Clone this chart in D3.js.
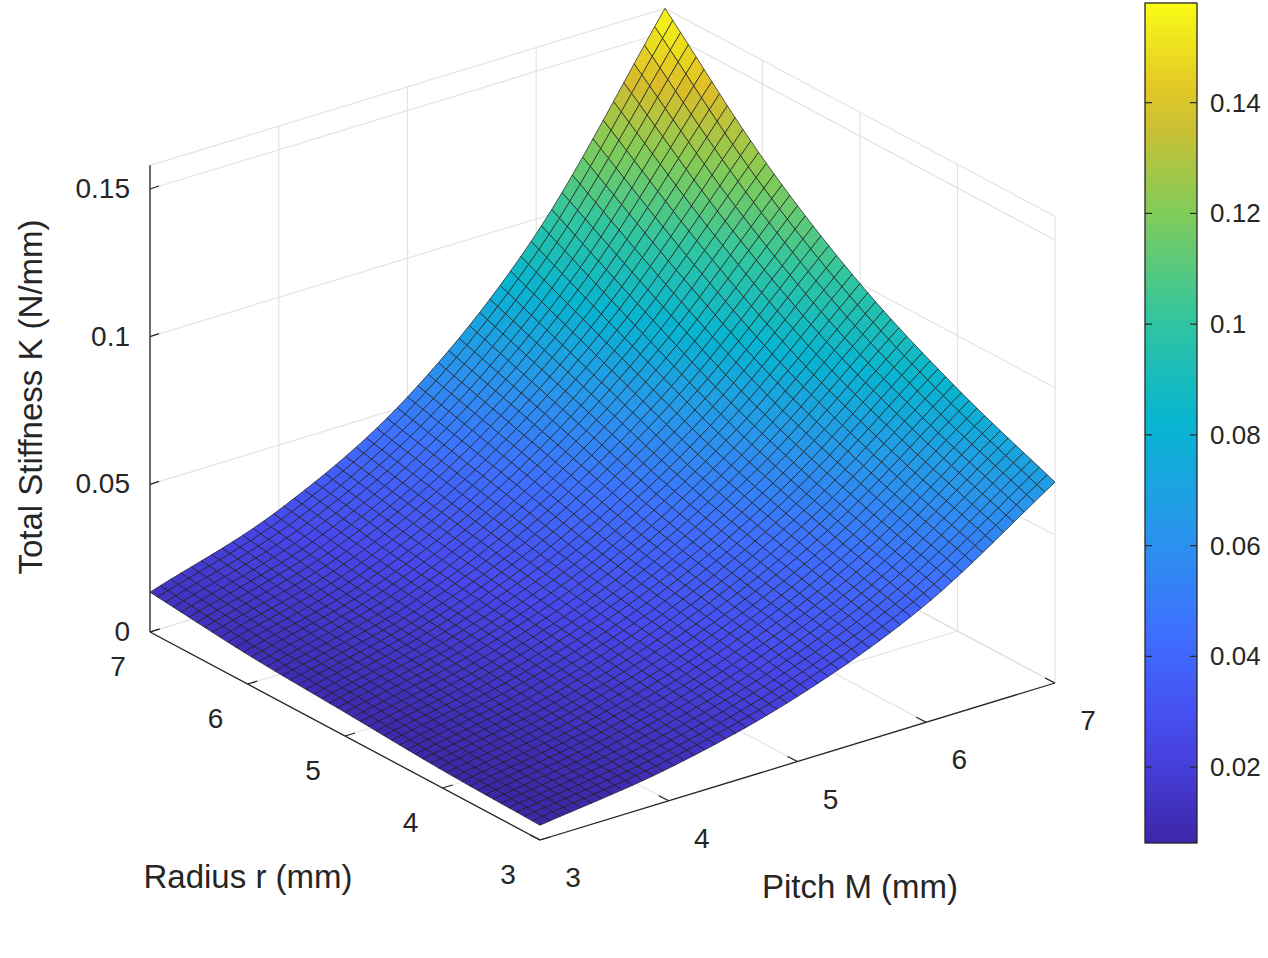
<!DOCTYPE html><html><head><meta charset="utf-8"><script src="https://cdn.jsdelivr.net/npm/d3@7"></script>
<style>body{margin:0;background:#fff}svg{font-family:"Liberation Sans",Arial,sans-serif}</style></head><body>
<svg id="c" width="1268" height="958"></svg>
<script>
const radius=[3,4,5,6,7];
const pitch=[3,4,5,6,7];
// K[ri][mi] : stiffness at radius[ri], pitch[mi]
const K=[
[0.005,0.011,0.022,0.040,0.068],
[0.006,0.014,0.028,0.050,0.082],
[0.008,0.018,0.035,0.062,0.100],
[0.010,0.022,0.044,0.078,0.125],
[0.0135,0.028,0.053,0.095,0.158]];
const zTicks=[0,0.05,0.1,0.15];
const rTicks=[3,4,5,6,7], mTicks=[3,4,5,6,7];
const cbTicks=[0.02,0.04,0.06,0.08,0.1,0.12,0.14];
const parula=[[0.2422,0.1504,0.6603],[0.2803,0.2782,0.9221],[0.2440,0.4358,0.9988],[0.1540,0.5902,0.9218],[0.0297,0.7082,0.8163],[0.1938,0.7758,0.6251],[0.5044,0.7993,0.3480],[0.8634,0.7406,0.1596],[0.9769,0.9839,0.0805]];
const cmin=0.0063,cmax=0.158,zmax=0.158;

const svg=d3.select("#c");
const O=[540,840],Vr=[-390,-208],Vm=[515,-157];
const zs=d3.scaleLinear().domain([0,0.15]).range([0,-443]);
const ur=d3.scaleLinear().domain([3,7]).range([0,1]), um=d3.scaleLinear().domain([3,7]).range([0,1]);
function P(r,m,z){const a=ur(r),b=um(m);return [O[0]+a*Vr[0]+b*Vm[0],O[1]+a*Vr[1]+b*Vm[1]+zs(z)];}
const pc=d3.scaleLinear().domain(d3.range(parula.length).map(i=>cmin+(cmax-cmin)*i/(parula.length-1))).range(parula.map(c=>d3.rgb(c[0]*255,c[1]*255,c[2]*255))).interpolate(d3.interpolateRgb).clamp(true);
function cr(p0,p1,p2,p3,t){return 0.5*((2*p1)+(-p0+p2)*t+(2*p0-5*p1+4*p2-p3)*t*t+(-p0+3*p1-3*p2+p3)*t*t*t);}
function row(arr,x){const n=arr.length;let i=Math.min(Math.floor(x),n-2);const t=x-i;const g=k=>k<0?2*arr[0]-arr[1]:k>=n?2*arr[n-1]-arr[n-2]:arr[k];return cr(g(i-1),g(i),g(i+1),g(i+2),t);}
function Kat(r,m){const x=r-3,y=m-3;const vals=K.map(rw=>row(rw,y));return row(vals,x);}
const line=(a,b,st,w)=>svg.append("line").attr("x1",a[0]).attr("y1",a[1]).attr("x2",b[0]).attr("y2",b[1]).attr("stroke",st).attr("stroke-width",w);
const gc="#e3e3e3";
zTicks.concat([zmax]).forEach(z=>{line(P(7,3,z),P(7,7,z),gc,1.2);line(P(7,7,z),P(3,7,z),gc,1.2);});
mTicks.forEach(m=>line(P(7,m,0),P(7,m,zmax),gc,1.2));
rTicks.forEach(r=>line(P(r,7,0),P(r,7,zmax),gc,1.2));
mTicks.forEach(m=>line(P(3,m,0),P(7,m,0),gc,1.2));
rTicks.forEach(r=>line(P(r,3,0),P(r,7,0),gc,1.2));
const N=50,cells=[];
for(let i=0;i<N;i++)for(let j=0;j<N;j++){const r0=3+4*i/N,r1=3+4*(i+1)/N,m0=3+4*j/N,m1=3+4*(j+1)/N;
const zz=[Kat(r0,m0),Kat(r1,m0),Kat(r1,m1),Kat(r0,m1)];
cells.push({d:i+j,pts:[P(r0,m0,zz[0]),P(r1,m0,zz[1]),P(r1,m1,zz[2]),P(r0,m1,zz[3])],v:d3.mean(zz)});}
cells.sort((a,b)=>b.d-a.d);
svg.append("g").selectAll("path").data(cells).join("path").attr("d",c=>"M"+c.pts.join("L")+"Z").attr("fill",c=>pc(c.v)).attr("stroke","#1a1a1a").attr("stroke-width",0.7).attr("stroke-linejoin","round");
const ac="#262626";
line(P(7,3,0),P(7,3,zmax),ac,1.3);
line(P(3,3,0),P(7,3,0),ac,1.3);
line(P(3,3,0),P(3,7,0),ac,1.3);
zTicks.forEach(z=>{const p=P(7,3,z);line(p,[p[0]+9,p[1]-3],ac,1.3);
svg.append("text").attr("x",p[0]-20).attr("y",p[1]+9).attr("text-anchor","end").attr("font-size",28).attr("fill",ac).text(z);});
rTicks.forEach(r=>{const p=P(r,3,0);line(p,[p[0]+10,p[1]-3],ac,1.3);
svg.append("text").attr("x",p[0]-32).attr("y",p[1]+44).attr("text-anchor","middle").attr("font-size",28).attr("fill",ac).text(r);});
mTicks.forEach(m=>{const p=P(3,m,0);line(p,[p[0]-10,p[1]-5],ac,1.3);
svg.append("text").attr("x",p[0]+33).attr("y",p[1]+47).attr("text-anchor","middle").attr("font-size",28).attr("fill",ac).text(m);});
svg.append("text").attr("x",248).attr("y",888).attr("text-anchor","middle").attr("font-size",33).attr("fill",ac).text("Radius r (mm)");
svg.append("text").attr("x",860).attr("y",898).attr("text-anchor","middle").attr("font-size",33).attr("fill",ac).text("Pitch M (mm)");
svg.append("text").attr("transform","translate(42,397) rotate(-90)").attr("text-anchor","middle").attr("font-size",33).attr("fill",ac).text("Total Stiffness K (N/mm)");
const cy=d3.scaleLinear().domain([cmin,cmax]).range([843,3]);
const defs=svg.append("defs"),gr=defs.append("linearGradient").attr("id","g").attr("x1",0).attr("y1",1).attr("x2",0).attr("y2",0);
d3.range(0,1.0001,0.05).forEach(t=>gr.append("stop").attr("offset",t).attr("stop-color",pc(cmin+(cmax-cmin)*t)));
svg.append("rect").attr("x",1145).attr("y",3).attr("width",52).attr("height",840).attr("fill","url(#g)").attr("stroke",ac).attr("stroke-width",1.3);
cbTicks.forEach(v=>{const y=cy(v);line([1145,y],[1152,y],ac,1.2);line([1190,y],[1197,y],ac,1.2);
svg.append("text").attr("x",1210).attr("y",y+9).attr("font-size",26).attr("fill",ac).text(v);});
</script></body></html>
